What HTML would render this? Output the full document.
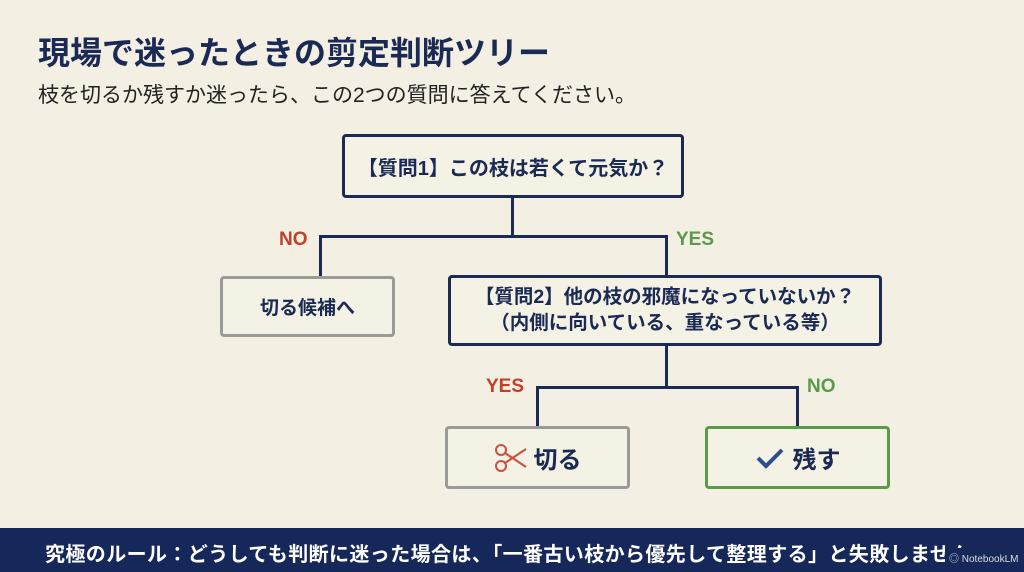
<!DOCTYPE html>
<html><head><meta charset="utf-8"><style>
body{margin:0;width:1024px;height:572px;background:#f3efe2;font-family:"Liberation Sans","Noto Sans CJK JP",sans-serif;position:relative;overflow:hidden;color:#1b2a55}
.a{position:absolute}
.box{position:absolute;box-sizing:border-box;border:3px solid #1b2a55;border-radius:4px;background:#f4f1e5;display:flex;align-items:center;justify-content:center;font-weight:bold;text-align:center}
.l{position:absolute;background:#1b2a55}
.lb{position:absolute;font-weight:bold;font-size:19px}
</style></head><body>
<div class="a" style="left:38px;top:28px;font-size:32px;font-weight:bold;color:#1b2a55">現場で迷ったときの剪定判断ツリー</div>
<div class="a" style="left:38px;top:79px;font-size:21px;color:#222">枝を切るか残すか迷ったら、この2つの質問に答えてください。</div>

<div class="box" style="left:342px;top:134px;width:342px;height:64px;font-size:20px">【質問1】この枝は若くて元気か？</div>
<div class="l" style="left:511px;top:198px;width:3px;height:40px"></div>
<div class="l" style="left:319px;top:235px;width:349px;height:3px"></div>
<div class="l" style="left:319px;top:235px;width:3px;height:41px"></div>
<div class="l" style="left:665px;top:235px;width:3px;height:40px"></div>
<div class="lb" style="left:279px;top:229px;color:#c0402d">NO</div>
<div class="lb" style="left:676px;top:229px;color:#5a9a4a">YES</div>

<div class="box" style="left:220px;top:276px;width:175px;height:61px;font-size:19px;border-color:#9a9a96">切る候補へ</div>
<div class="box" style="left:448px;top:275px;width:434px;height:71px;font-size:19.5px;line-height:1.3">【質問2】他の枝の邪魔になっていないか？<br>（内側に向いている、重なっている等）</div>
<div class="l" style="left:665px;top:346px;width:3px;height:42px"></div>
<div class="l" style="left:536px;top:386px;width:262px;height:3px"></div>
<div class="l" style="left:536px;top:386px;width:3px;height:40px"></div>
<div class="l" style="left:796px;top:386px;width:3px;height:40px"></div>
<div class="lb" style="left:486px;top:376px;color:#c0402d">YES</div>
<div class="lb" style="left:807px;top:376px;color:#5a9a4a">NO</div>

<div class="box" style="left:445px;top:426px;width:185px;height:63px;font-size:24px;border-color:#9a9a96">
<svg width="34" height="30" viewBox="0 0 34 30" style="margin-right:6px"><g fill="none" stroke="#c9503c" stroke-width="2"><circle cx="7" cy="7" r="5"/><circle cx="7" cy="23" r="5"/><path d="M11 10 L32 24 M11 20 L32 6"/></g></svg>切る</div>
<div class="box" style="left:705px;top:426px;width:185px;height:63px;font-size:24px;border-color:#5a9a4a">
<svg width="30" height="24" viewBox="0 0 30 24" style="margin-right:8px"><path d="M3 12 L11 20 L27 4" fill="none" stroke="#2a4f8e" stroke-width="4"/></svg>残す</div>

<div class="a" style="left:0;top:528px;width:1024px;height:44px;background:#16285a"></div>
<div class="a" style="left:45px;top:538px;font-size:20px;font-weight:bold;color:#fff;white-space:nowrap;letter-spacing:0.4px">究極のルール：どうしても判断に迷った場合は、「一番古い枝から優先して整理する」と失敗しません</div>
<div class="a" style="left:945px;top:548px;height:24px;line-height:24px;font-size:10px;color:#ddd;background:#16285a;padding-left:4px;width:79px">◎ NotebookLM</div>
</body></html>
